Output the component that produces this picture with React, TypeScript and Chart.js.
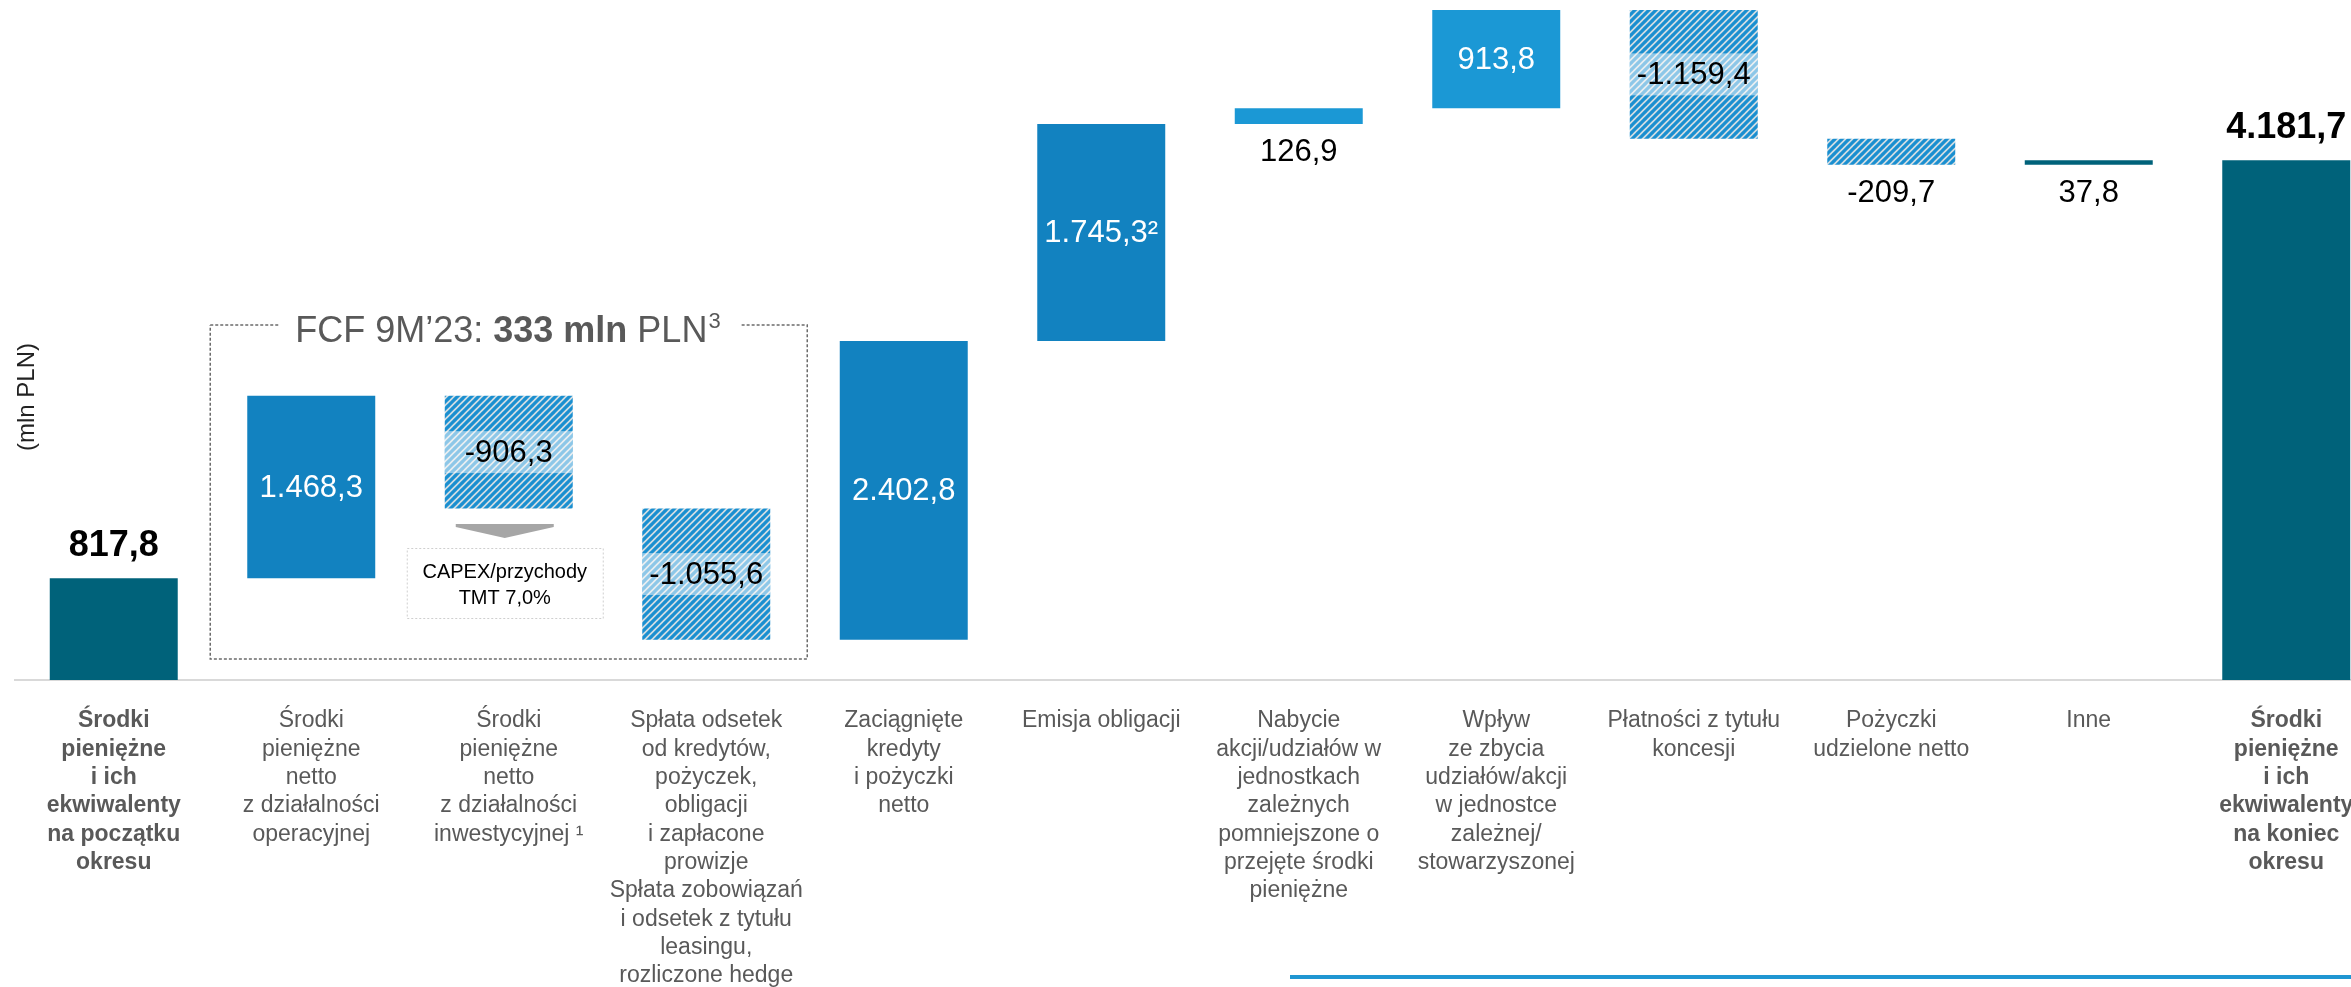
import React, { useEffect, useRef } from 'react';
import { Chart, registerables } from 'chart.js';

Chart.register(...registerables);

const FONT = "'Liberation Sans', Arial, Helvetica, sans-serif";

// Category (tick) labels, one array of lines per bar
const categories: string[][] = [
  ['Środki', 'pieniężne', 'i ich', 'ekwiwalenty', 'na początku', 'okresu'],
  ['Środki', 'pieniężne', 'netto', 'z działalności', 'operacyjnej'],
  ['Środki', 'pieniężne', 'netto', 'z działalności', 'inwestycyjnej ¹'],
  ['Spłata odsetek', 'od kredytów,', 'pożyczek,', 'obligacji', 'i zapłacone', 'prowizje',
    'Spłata zobowiązań', 'i odsetek z tytułu', 'leasingu,', 'rozliczone hedge'],
  ['Zaciągnięte', 'kredyty', 'i pożyczki', 'netto'],
  ['Emisja obligacji'],
  ['Nabycie', 'akcji/udziałów w', 'jednostkach', 'zależnych', 'pomniejszone o', 'przejęte środki', 'pieniężne'],
  ['Wpływ', 'ze zbycia', 'udziałów/akcji', 'w jednostce', 'zależnej/', 'stowarzyszonej'],
  ['Płatności z tytułu', 'koncesji'],
  ['Pożyczki', 'udzielone netto'],
  ['Inne'],
  ['Środki', 'pieniężne', 'i ich', 'ekwiwalenty', 'na koniec', 'okresu'],
];

// Value labels as printed
const valueLabels: string[] = [
  '817,8', '1.468,3', '-906,3', '-1.055,6', '2.402,8', '1.745,3²',
  '126,9', '913,8', '-1.159,4', '-209,7', '37,8', '4.181,7',
];

// Floating bar ranges (mln PLN)
const barFrom: number[] = [0, 817.8, 1379.8, 324.2, 324.2, 2727.0, 4472.3, 4599.2, 4353.6, 4143.9, 4143.9, 0];
const barTo: number[] = [817.8, 2286.1, 2286.1, 1379.8, 2727.0, 4472.3, 4599.2, 5390, 5390, 4353.6, 4181.7, 4181.7];

// Bar kind: total, up, upLight, down (hatched), other
const barKinds: string[] = ['total', 'up', 'down', 'down', 'up', 'up', 'upLight', 'upLight', 'down', 'down', 'other', 'total'];
const labelPlacement: string[] = ['above', 'inside', 'inside', 'inside', 'inside', 'inside', 'below', 'inside', 'inside', 'below', 'below', 'above'];

const TEAL = '#00627a';
const BLUE = '#1282c0';
const BLUE_LIGHT = '#1b98d5';

function makeHatch(ctx: CanvasRenderingContext2D, bg: string, fg: string) {
  const s = 7;
  const c = document.createElement('canvas');
  c.width = s;
  c.height = s;
  const g = c.getContext('2d')!;
  g.fillStyle = bg;
  g.fillRect(0, 0, s, s);
  g.strokeStyle = fg;
  g.lineWidth = 3.2;
  g.beginPath();
  for (const k of [-1, 0, 1]) {
    g.moveTo(k * s - 1, s + 1);
    g.lineTo(k * s + s + 1, -1);
  }
  g.stroke();
  return ctx.createPattern(c, 'repeat')!;
}

const valueLabelPlugin = {
  id: 'valueLabelPlugin',
  afterDatasetsDraw(chart: any) {
    const ctx: CanvasRenderingContext2D = chart.ctx;
    const meta = chart.getDatasetMeta(0);
    ctx.save();
    meta.data.forEach((bar: any, i: number) => {
      const { x, y, base, width } = bar.getProps(['x', 'y', 'base', 'width'], true);
      const top = Math.min(y, base);
      const bottom = Math.max(y, base);
      const kind = barKinds[i];
      const place = labelPlacement[i];
      const isTotal = kind === 'total';
      ctx.font = `${isTotal ? 'bold ' : ''}${isTotal ? 36 : 31}px ${FONT}`;
      ctx.textAlign = 'center';
      if (place === 'above') {
        ctx.fillStyle = '#000';
        ctx.textBaseline = 'alphabetic';
        ctx.fillText(valueLabels[i], x, top - 22);
      } else if (place === 'below') {
        ctx.fillStyle = '#000';
        ctx.textBaseline = 'alphabetic';
        ctx.fillText(valueLabels[i], x, bottom + 37);
      } else {
        const cy = (top + bottom) / 2;
        if (kind === 'down') {
          ctx.fillStyle = 'rgba(255,255,255,0.5)';
          ctx.fillRect(x - width / 2, cy - 21, width, 42);
          ctx.fillStyle = '#000';
        } else {
          ctx.fillStyle = '#fff';
        }
        ctx.textBaseline = 'middle';
        ctx.fillText(valueLabels[i], x, cy + 1);
      }
    });
    ctx.restore();
  },
};

const annotationPlugin = {
  id: 'annotationPlugin',
  afterDraw(chart: any) {
    const ctx: CanvasRenderingContext2D = chart.ctx;
    const xs = chart.scales.x;
    ctx.save();

    // FCF dashed frame
    const x1 = xs.getPixelForValue(1) - 101;
    const x2 = xs.getPixelForValue(3) + 101;
    const y1 = 325;
    const y2 = 659;
    const headStart = x1 + 85;
    const parts = [
      { t: 'FCF 9M’23: ', bold: false },
      { t: '333 mln', bold: true },
      { t: ' PLN', bold: false },
    ];
    let w = 0;
    parts.forEach((p) => {
      ctx.font = `${p.bold ? 'bold ' : ''}36px ${FONT}`;
      w += ctx.measureText(p.t).width;
    });
    ctx.font = `22px ${FONT}`;
    const supW = ctx.measureText('3').width;
    const headEnd = headStart + w + supW;

    ctx.strokeStyle = '#6b6b6b';
    ctx.lineWidth = 1.5;
    ctx.setLineDash([3, 2]);
    ctx.beginPath();
    ctx.moveTo(x1, y1);
    ctx.lineTo(headStart - 17, y1);
    ctx.moveTo(headEnd + 22, y1);
    ctx.lineTo(x2, y1);
    ctx.lineTo(x2, y2);
    ctx.lineTo(x1, y2);
    ctx.lineTo(x1, y1);
    ctx.stroke();
    ctx.setLineDash([]);

    // FCF header
    ctx.fillStyle = '#595959';
    ctx.textAlign = 'left';
    ctx.textBaseline = 'alphabetic';
    let hx = headStart;
    parts.forEach((p) => {
      ctx.font = `${p.bold ? 'bold ' : ''}36px ${FONT}`;
      ctx.fillText(p.t, hx, 342);
      hx += ctx.measureText(p.t).width;
    });
    ctx.font = `22px ${FONT}`;
    ctx.fillText('3', hx + 1, 328);

    // Arrow and CAPEX box under the investing bar
    const cx = xs.getPixelForValue(2) - 4;
    ctx.fillStyle = '#a6a6a6';
    ctx.beginPath();
    ctx.moveTo(cx - 49, 524);
    ctx.lineTo(cx + 49, 524);
    ctx.lineTo(cx + 49, 527);
    ctx.lineTo(cx, 538);
    ctx.lineTo(cx - 49, 527);
    ctx.closePath();
    ctx.fill();

    ctx.strokeStyle = '#cfcfcf';
    ctx.lineWidth = 1;
    ctx.setLineDash([2, 2]);
    ctx.strokeRect(cx - 98 + 0.5, 548.5, 196, 70);
    ctx.setLineDash([]);
    ctx.fillStyle = '#000';
    ctx.textAlign = 'center';
    ctx.font = `20px ${FONT}`;
    ctx.fillText('CAPEX/przychody', cx, 578);
    ctx.fillText('TMT 7,0%', cx, 604);

    // Y unit label
    ctx.save();
    ctx.translate(27, 397);
    ctx.rotate(-Math.PI / 2);
    ctx.font = `24px ${FONT}`;
    ctx.fillStyle = '#222';
    ctx.textAlign = 'center';
    ctx.textBaseline = 'middle';
    ctx.fillText('(mln PLN)', 0, 0);
    ctx.restore();

    // bottom blue rule
    ctx.fillStyle = '#1f96d2';
    ctx.fillRect(1290, 975, 1110, 4);

    ctx.restore();
  },
};

export default function App() {
  const ref = useRef<HTMLCanvasElement | null>(null);

  useEffect(() => {
    const canvas = ref.current!;
    const ctx = canvas.getContext('2d')!;
    const hatch = makeHatch(ctx, '#d3dde3', '#1a8fd0');
    const colors = barKinds.map((k) => {
      if (k === 'total' || k === 'other') return TEAL;
      if (k === 'up') return BLUE;
      if (k === 'upLight') return BLUE_LIGHT;
      return hatch;
    });

    const chart = new Chart(canvas, {
      type: 'bar',
      data: {
        labels: categories,
        datasets: [
          {
            data: barFrom.map((f, i) => [f, barTo[i]]) as any,
            backgroundColor: colors as any,
            borderWidth: 0,
            barPercentage: 0.648,
            categoryPercentage: 1,
          },
        ],
      },
      options: {
        animation: false,
        responsive: false,
        maintainAspectRatio: false,
        devicePixelRatio: 1,
        layout: { padding: { left: 15, right: 15, top: 0, bottom: 0 } },
        plugins: {
          legend: { display: false },
          tooltip: { enabled: false },
          title: { display: false },
        },
        scales: {
          x: {
            type: 'category',
            offset: true,
            grid: { display: false, drawTicks: false },
            border: { display: true, color: '#d9d9d9', width: 2 },
            ticks: {
              autoSkip: false,
              maxRotation: 0,
              minRotation: 0,
              padding: 27,
              color: '#595959',
              font: (c: any) => ({
                family: FONT,
                size: 23,
                lineHeight: 1.23,
                weight: c.index === 0 || c.index === categories.length - 1 ? 'bold' : 'normal',
              }),
            },
            afterFit: (scale: any) => {
              scale.height = 307;
            },
          },
          y: {
            type: 'linear',
            display: false,
            min: 0,
            max: 5470,
          },
        },
      },
      plugins: [valueLabelPlugin, annotationPlugin],
    } as any);

    return () => chart.destroy();
  }, []);

  return (
    <div
      style={{
        position: 'fixed',
        left: 0,
        top: 0,
        width: 2351,
        height: 987,
        overflow: 'hidden',
        background: '#fff',
      }}
    >
      <canvas ref={ref} width={2400} height={987} style={{ display: 'block', width: 2400, height: 987 }} />
    </div>
  );
}
